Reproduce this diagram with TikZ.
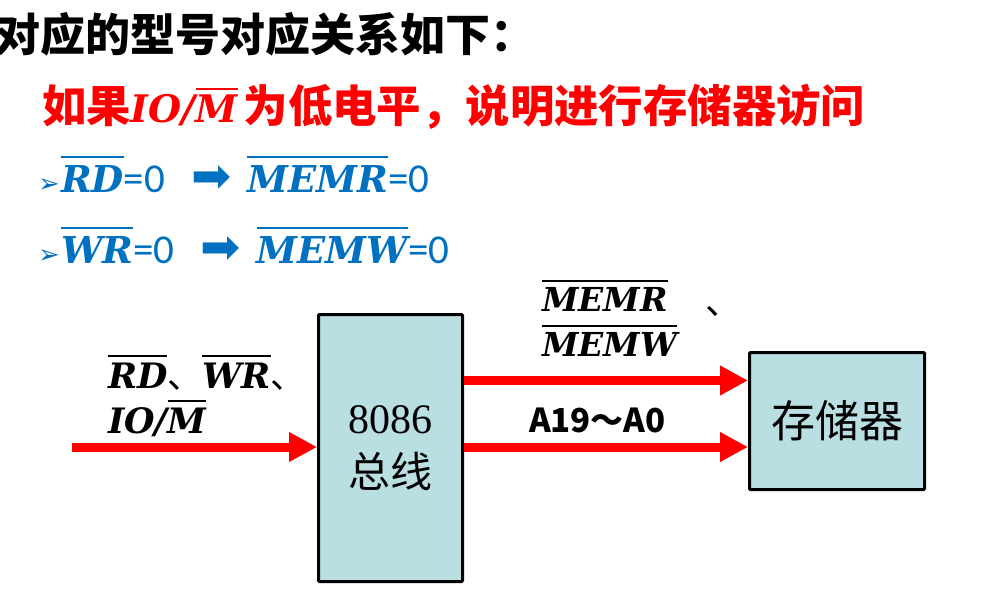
\documentclass[tikz,border=0pt]{standalone}
\usepackage{fontspec}
\usetikzlibrary{arrows.meta}
\newfontfamily\cjk{Noto Sans CJK SC}
\newfontfamily\calib{Carlito}
\newfontfamily\dejavu{DejaVu Sans}
\newfontfamily\tnr{Liberation Serif}
\newfontfamily\sigfont{DejaVu Serif}

\definecolor{boxfill}{RGB}{185,223,226}
\definecolor{hiblue}{RGB}{0,112,192}

% active-low signal name: bold italic letters under a bar
\newcommand\sigtxt[1]{{\sigfont\bfseries\itshape #1}}
\newcommand\sig[2][5pt]{\vbox{\hrule height 2.4pt\kern #1\hbox{\sigtxt{#2}}}}
\newcommand\fsz[1]{\fontsize{#1}{#1}\selectfont}
\newcommand\bul{\makebox[23pt][l]{\dejavu\fsz{26}➢}}

\tikzset{
  txt/.style={anchor=base west, inner sep=0pt, outer sep=0pt},
  unit/.style={draw, line width=3pt, fill=boxfill, inner sep=0pt, rounded corners=1pt, align=center},
  bus/.style={draw=red, line width=9pt, -{Triangle[length=28pt,width=28pt]}},
}

\begin{document}
\begin{tikzpicture}[x=1pt,y=-1pt]
\useasboundingbox (0,0) rectangle (993,602);

% heading and explanation
\node[txt, font=\cjk\bfseries\fsz{45}] (title) at (-5,52) {对应的型号对应关系如下：};
\node[txt, text=red, font=\cjk\bfseries\fsz{44.4}] (cond) at (42,122)
  {如果{\fsz{38}\sigtxt{IO/}}{\fsz{38}\sig[4pt]{M}}\hspace{6pt}为低电平，说明进行存储器访问};

% signal correspondences
\node[txt, text=hiblue, font=\fsz{37}] (rd) at (38,192)
  {\bul\sig[7pt]{RD}{\calib\fsz{41}=0}\hspace{26pt}{\dejavu\fsz{48}➡}\hspace{16pt}\sig[7pt]{MEMR}{\calib\fsz{41}=0}};
\node[txt, text=hiblue, font=\fsz{37}] (wr) at (38,263)
  {\bul\sig[7pt]{WR}{\calib\fsz{41}=0}\hspace{26pt}{\dejavu\fsz{48}➡}\hspace{16pt}\sig[7pt]{MEMW}{\calib\fsz{41}=0}};

% bus and memory blocks
\node[unit, minimum width=144pt, minimum height=267pt, font=\fsz{42}] (bus) at (390.5,448)
  {{\tnr 8086}\\[12pt]{\cjk 总线}};
\node[unit, minimum width=175pt, minimum height=137pt, font=\cjk\fsz{44}] (mem) at (837,421) {存储器};

% control input
\coordinate (src) at (72,447);
\draw[bus] (src) -- (src -| bus.west);
\node[txt, font=\fsz{35}] (inlab1) at (108,388) {\sig{RD}{\cjk 、}\sig{WR}{\cjk 、}};
\node[txt, font=\fsz{35}] (inlab2) at (108,433) {\sigtxt{IO/}\sig{M}};

% outputs towards memory
\draw[bus] (bus.east |- 0,380.5) -- (mem.west |- 0,380.5);
\draw[bus] (bus.east |- 0,447) -- (mem.west |- 0,447);
\node[txt, font=\fsz{33}] (memr) at (542,311) {\sig{MEMR}};
\node[txt, font=\cjk\fsz{36}] (sep) at (705,314) {、};
\node[txt, font=\fsz{33}] (memw) at (542,356) {\sig{MEMW}};
\node[txt, font=\cjk\bfseries\fsz{33}] (addr) at (529,432) {A19～A0};
\end{tikzpicture}
\end{document}
